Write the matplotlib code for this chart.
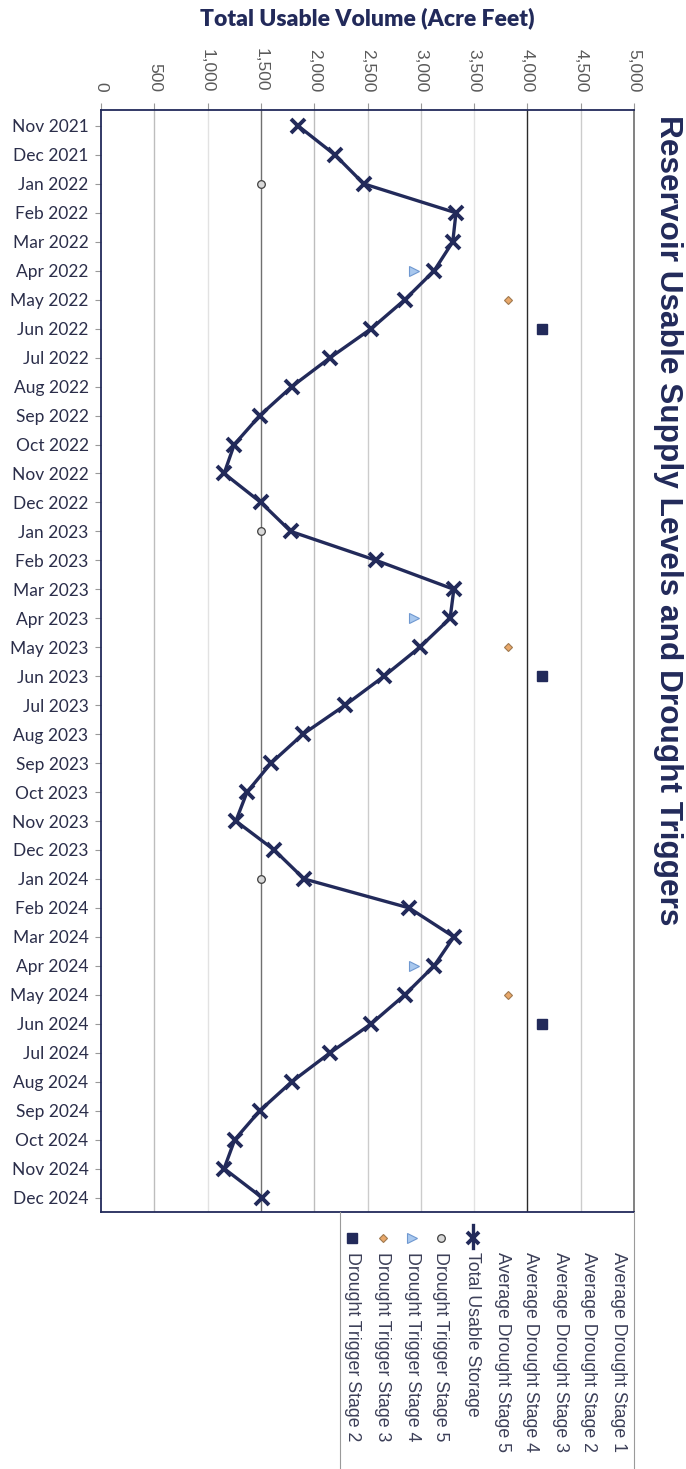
import numpy as np
import matplotlib
matplotlib.use("Agg")
from matplotlib import pyplot as plt

# months shown top to bottom
months = ['Nov 2021', 'Dec 2021', 'Jan 2022', 'Feb 2022', 'Mar 2022', 'Apr 2022',
          'May 2022', 'Jun 2022', 'Jul 2022', 'Aug 2022', 'Sep 2022', 'Oct 2022',
          'Nov 2022', 'Dec 2022', 'Jan 2023', 'Feb 2023', 'Mar 2023', 'Apr 2023',
          'May 2023', 'Jun 2023', 'Jul 2023', 'Aug 2023', 'Sep 2023', 'Oct 2023',
          'Nov 2023', 'Dec 2023', 'Jan 2024', 'Feb 2024', 'Mar 2024', 'Apr 2024',
          'May 2024', 'Jun 2024', 'Jul 2024', 'Aug 2024', 'Sep 2024', 'Oct 2024',
          'Nov 2024', 'Dec 2024']

total_storage = [1850, 2195, 2465, 3330, 3300, 3125, 2850, 2535, 2150, 1790,
                 1490, 1250, 1155, 1500, 1780, 2580, 3310, 3275, 2990, 2655,
                 2290, 1895, 1595, 1370, 1265, 1625, 1905, 2890, 3310, 3125,
                 2850, 2535, 2150, 1790, 1490, 1255, 1155, 1510]

# drought triggers (month label, value)
trigger5_months = ['Jan 2022', 'Jan 2023', 'Jan 2024']
trigger5_values = [1500, 1500, 1500]
trigger4_months = ['Apr 2022', 'Apr 2023', 'Apr 2024']
trigger4_values = [2940, 2940, 2940]
trigger3_months = ['May 2022', 'May 2023', 'May 2024']
trigger3_values = [3820, 3820, 3820]
trigger2_months = ['Jun 2022', 'Jun 2023', 'Jun 2024']
trigger2_values = [4140, 4140, 4140]

x_ticks = [0, 500, 1000, 1500, 2000, 2500, 3000, 3500, 4000, 4500, 5000]

legend_labels = ['Average Drought Stage 1', 'Average Drought Stage 2',
                 'Average Drought Stage 3', 'Average Drought Stage 4',
                 'Average Drought Stage 5', 'Total Usable Storage',
                 'Drought Trigger Stage 5', 'Drought Trigger Stage 4',
                 'Drought Trigger Stage 3', 'Drought Trigger Stage 2']

NAVY = '#222a5a'
W, H = 686, 1469

fig = plt.figure(figsize=(W / 100, H / 100), dpi=100)
ax = fig.add_axes([101 / W, 1 - 1212 / H, 533 / W, 1102 / H])

idx = {m: i for i, m in enumerate(months)}
y = np.arange(len(months))

# grid lines, some darker like the reference
grid_colors = {0: None, 500: '#bdbdbd', 1000: '#e2e2e2', 1500: '#707070',
               2000: '#bdbdbd', 2500: '#cccccc', 3000: '#cccccc', 3500: '#e2e2e2',
               4000: '#2a2a2a', 4500: '#cccccc', 5000: None}
for t in x_ticks:
    c = grid_colors[t]
    if c:
        ax.axvline(t, color=c, lw=1.0, zorder=0)

ax.plot(total_storage, y, color=NAVY, lw=2.4, marker='x', ms=10, mew=2.8,
        zorder=3)

ax.plot(trigger5_values, [idx[m] for m in trigger5_months], ls='none', marker='o',
        ms=5.5, mfc='#d9d9d9', mec='#404040', mew=0.9, zorder=4)
ax.plot(trigger4_values, [idx[m] for m in trigger4_months], ls='none', marker='>',
        ms=6.5, mfc='#a9c8ee', mec='#6f98d0', mew=0.8, zorder=4)
ax.plot(trigger3_values, [idx[m] for m in trigger3_months], ls='none', marker='D',
        ms=4.5, mfc='#e9a86a', mec='#a07a50', mew=0.8, zorder=4)
ax.plot(trigger2_values, [idx[m] for m in trigger2_months], ls='none', marker='s',
        ms=6.5, mfc=NAVY, mec=NAVY, zorder=4)

ax.set_xlim(0, 5000)
ax.set_ylim(37.5, -0.55)
ax.set_yticks(y)
ax.set_yticklabels(months, fontfamily='Lato', fontsize=12.5, color='#2b2e4a')
ax.tick_params(axis='y', length=4, color='#999999', pad=5)

ax.xaxis.tick_top()
ax.set_xticks(x_ticks)
ax.set_xticklabels(['{:,}'.format(t) for t in x_ticks], rotation=-90,
                   fontfamily='Liberation Sans', fontsize=12.5, color='#5a5a5a')
ax.tick_params(axis='x', length=5, color='#999999', pad=8)

for s in ['left', 'top', 'bottom']:
    ax.spines[s].set_color(NAVY)
    ax.spines[s].set_linewidth(1.3)
ax.spines['right'].set_color('#777777')
ax.spines['right'].set_linewidth(1.3)

fig.text(367 / W, 1 - 18 / H, 'Total Usable Volume (Acre Feet)', ha='center',
         va='center', fontfamily='Lato', fontweight='heavy', fontsize=16.5,
         color=NAVY)

fig.text(668 / W, 1 - 520 / H,
         'Reservoir Usable Supply Levels and Drought Triggers',
         rotation=-90, ha='center', va='center', fontfamily='Liberation Sans',
         fontweight='bold', fontsize=22.8, color=NAVY)

# legend box, drawn by hand so the entries can be rotated
lax = fig.add_axes([340 / W, 0, 294 / W, 257 / H])
lax.set_xlim(0, 294)
lax.set_ylim(257, 0)
lax.set_xticks([])
lax.set_yticks([])
for s in ['left', 'right']:
    lax.spines[s].set_color('#9a9a9a')
for s in ['top', 'bottom']:
    lax.spines[s].set_visible(False)
lax.patch.set_alpha(0)

col_x = [278, 248, 220, 191, 162, 133, 101, 72, 43, 12]
for lab, cx in zip(legend_labels, col_x):
    lax.text(cx, 40, lab, rotation=-90, ha='center', va='top',
             fontfamily='Liberation Sans', fontsize=12.8, color='#3c3f58')

lax.plot([133, 133], [13, 36], color=NAVY, lw=2.4)
lax.plot([133], [26], marker='x', ms=9, mew=2.8, color=NAVY)
lax.plot([101], [26], marker='o', ms=5.5, mfc='#d9d9d9', mec='#404040', mew=0.9)
lax.plot([72], [26], marker='>', ms=6.5, mfc='#a9c8ee', mec='#6f98d0', mew=0.8)
lax.plot([43], [26], marker='D', ms=4.5, mfc='#e9a86a', mec='#a07a50', mew=0.8)
lax.plot([12], [26], marker='s', ms=6.5, mfc=NAVY, mec=NAVY)

fig.savefig('out.png', dpi=100)
